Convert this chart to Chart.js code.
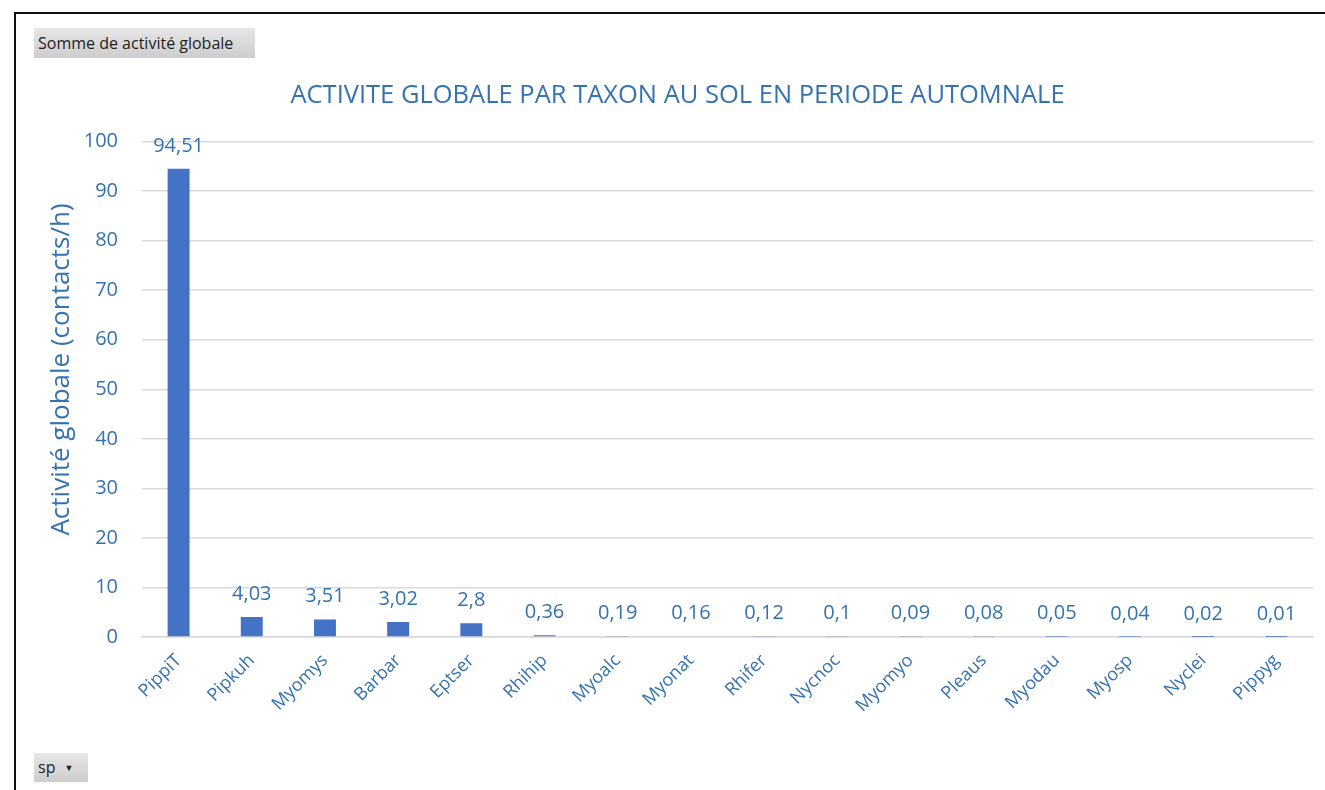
<!DOCTYPE html>
<html>
<head>
<meta charset="utf-8">
<script src="https://cdn.jsdelivr.net/npm/chart.js@4.4.1/dist/chart.umd.min.js"></script>
<style>
  html, body { margin: 0; padding: 0; background: #fff; }
  body { width: 1325px; height: 790px; position: relative; overflow: hidden; font-family: "Open Sans", sans-serif; }
  #frame { position: absolute; left: 14px; top: 12px; width: 1340px; height: 800px;
           border-top: 2px solid #111; border-left: 2px solid #111; }
  #wrap { position: absolute; left: 0; top: 0; width: 1325px; height: 790px; }
  .pivot-btn { position: absolute; background: linear-gradient(#e6e6e6, #cdcdcd);
               color: #222; font-size: 16px; line-height: 30px; padding: 0 4px; box-sizing: border-box;
               white-space: nowrap; }
  #fieldBtn { left: 34px; top: 28px; width: 221px; height: 30px; }
  #axisBtn { left: 34px; top: 753px; width: 54px; height: 29px; line-height: 29px; }
  #axisBtn .arrow { font-size: 9px; margin-left: 9px; vertical-align: 2px; }
</style>
</head>
<body>
<div id="frame"></div>
<div id="wrap"><canvas id="chart" width="1325" height="790"></canvas></div>
<div class="pivot-btn" id="fieldBtn">Somme de activité globale</div>
<div class="pivot-btn" id="axisBtn">sp<span class="arrow">&#9660;</span></div>
<script>
// Taxa (species codes) and their overall activity in contacts per hour
const taxa = ["PippiT", "Pipkuh", "Myomys", "Barbar", "Eptser", "Rhihip", "Myoalc", "Myonat",
              "Rhifer", "Nycnoc", "Myomyo", "Pleaus", "Myodau", "Myosp", "Nyclei", "Pippyg"];
const activity = [94.51, 4.03, 3.51, 3.02, 2.8, 0.36, 0.19, 0.16, 0.12, 0.1, 0.09, 0.08, 0.05, 0.04, 0.02, 0.01];
const yTicks = [0, 10, 20, 30, 40, 50, 60, 70, 80, 90, 100];
const yAxisTitle = "Activité globale (contacts/h)";

const BLUE_TEXT = "#3572b0";
const BAR_BLUE = "#4472c4";
const FONT = "'Open Sans', sans-serif";

// Value labels drawn above each bar, French decimal comma
const valueLabels = {
  id: "valueLabels",
  afterDatasetsDraw(chart) {
    const ctx = chart.ctx;
    const meta = chart.getDatasetMeta(0);
    ctx.save();
    ctx.fillStyle = BLUE_TEXT;
    ctx.font = "20px " + FONT;
    ctx.textAlign = "center";
    ctx.textBaseline = "middle";
    meta.data.forEach((bar, i) => {
      const txt = String(activity[i]).replace(".", ",");
      ctx.fillText(txt, bar.x, bar.y - 23);
    });
    ctx.restore();
  }
};

// Vertical axis title, drawn rotated beside the tick labels
const sideTitle = {
  id: "sideTitle",
  afterDraw(chart) {
    const ctx = chart.ctx;
    const area = chart.chartArea;
    ctx.save();
    ctx.translate(62, area.top + (area.bottom - area.top) * 0.46);
    ctx.rotate(-Math.PI / 2);
    ctx.fillStyle = BLUE_TEXT;
    ctx.font = "26px " + FONT;
    ctx.textAlign = "center";
    ctx.textBaseline = "middle";
    ctx.fillText(yAxisTitle, 0, 0);
    ctx.restore();
  }
};

new Chart(document.getElementById("chart"), {
  type: "bar",
  data: {
    labels: taxa,
    datasets: [{
      data: activity,
      backgroundColor: BAR_BLUE,
      categoryPercentage: 1,
      barPercentage: 0.3
    }]
  },
  options: {
    responsive: false,
    animation: false,
    layout: { padding: { left: 42, right: 12, top: 0, bottom: 0 } },
    plugins: {
      legend: { display: false },
      tooltip: { enabled: false },
      title: {
        display: true,
        text: "ACTIVITE GLOBALE PAR TAXON AU SOL EN PERIODE AUTOMNALE",
        color: BLUE_TEXT,
        font: { family: FONT, size: 25.5, weight: "normal" },
        padding: { top: 80, bottom: 31 }
      }
    },
    scales: {
      x: {
        grid: { display: false },
        border: { color: "#d9d9d9", width: 1.5 },
        ticks: {
          color: BLUE_TEXT,
          font: { family: FONT, size: 18 },
          minRotation: 45, maxRotation: 45,
          padding: 5
        },
        afterFit(scale) { scale.height = 153; }
      },
      y: {
        min: 0, max: 100,
        afterBuildTicks(scale) { scale.ticks = yTicks.map(v => ({ value: v })); },
        grid: { color: "#d9d9d9", lineWidth: 1.5, drawTicks: false },
        border: { display: false },
        ticks: {
          color: BLUE_TEXT,
          font: { family: FONT, size: 20 },
          padding: 24
        },
        afterFit(scale) { scale.width = 100; }
      }
    }
  },
  plugins: [valueLabels, sideTitle]
});
</script>
</body>
</html>
